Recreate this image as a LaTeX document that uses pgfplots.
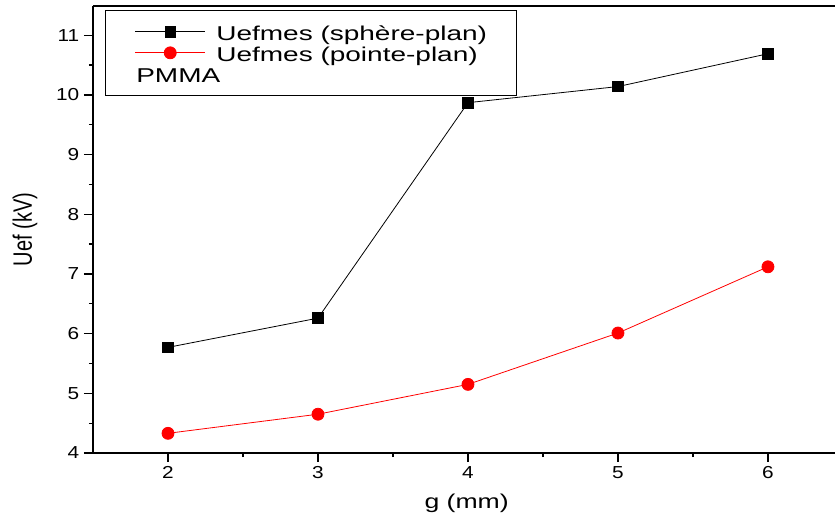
\documentclass[border=0pt]{standalone}
\usepackage{fontspec}
\setmainfont{Liberation Sans}
\newfontfamily\legfont{Liberation Sans}[FakeStretch=1.4]
\newfontfamily\labfont{Liberation Sans}[FakeStretch=1.33]
\newfontfamily\tickfont{Liberation Sans}[FakeStretch=1.2]
\usepackage{graphicx}
\usepackage{pgfplots}
\pgfplotsset{compat=1.18}
\begin{document}
\begin{tikzpicture}
\begin{axis}[name=ax, scale only axis, width=556.5pt, height=335.25pt,
 xmin=1.5, xmax=6.447, ymin=4, ymax=11.49,
 axis x line*=bottom, axis y line*=left,
 axis line style={line width=1.5pt},
 xtick={2,...,6}, ytick={4,...,11},
 minor xtick={2.5,3.5,4.5,5.5}, minor ytick={4.5,5.5,...,10.5},
 tick align=outside, major tick length=6.75pt, minor tick length=3pt,
 tick style={line width=1pt, black},
 /pgf/number format/assume math mode=true,
 ticklabel style={font=\tickfont\fontsize{13}{15}\selectfont},
 every axis x label/.style={at={(axis description cs:0.5,0)}, anchor=center, yshift=-37.5pt, xshift=2pt},
 every axis y label/.style={at={(axis description cs:0,0.5)}, anchor=center, xshift=-51pt},
 xlabel={\labfont\fontsize{15}{17}\selectfont g (mm)},
 ylabel={\scalebox{1.33}[1]{\rotatebox{90}{\fontsize{15}{17}\selectfont Uef (kV)}}},
 legend cell align=left,
 legend style={at={(axis description cs:0,1)}, anchor=north west, xshift=9pt, yshift=-3pt,
   draw=black, line width=0.75pt, font=\legfont\fontsize{15}{17}\selectfont,
   inner xsep=22pt, inner ysep=8.5pt, row sep=0.75pt,
   nodes={inner sep=0pt, text height=14pt, text depth=1pt}},
 legend image code/.code={\draw[mark repeat=2,mark phase=2] plot coordinates {(0pt,0pt) (26.25pt,0pt) (52.5pt,0pt)};},
]
\addplot[black, line width=0.6pt, mark=square*, mark size=4pt, mark options={solid, black}]
 coordinates {(2,5.77) (3,6.26) (4,9.87) (5,10.14) (6,10.69)};
\addlegendentry{\hspace{8pt}Uefmes (sphère-plan)}
\addplot[red, line width=0.6pt, mark=*, mark size=4.5pt, mark options={solid, red}]
 coordinates {(2,4.33) (3,4.65) (4,5.15) (5,6.01) (6,7.12)};
\addlegendentry{\hspace{8pt}Uefmes (pointe-plan)}
\addlegendimage{empty legend}
\addlegendentry{\hspace{-52pt}PMMA}
\end{axis}
\draw[line width=1.5pt] (ax.north west) -- (ax.north east);
\pgfresetboundingbox
\path[use as bounding box] ([xshift=-69.75pt, yshift=-49.5pt]ax.south west) rectangle ([yshift=4.5pt]ax.north east);
\end{tikzpicture}
\end{document}
